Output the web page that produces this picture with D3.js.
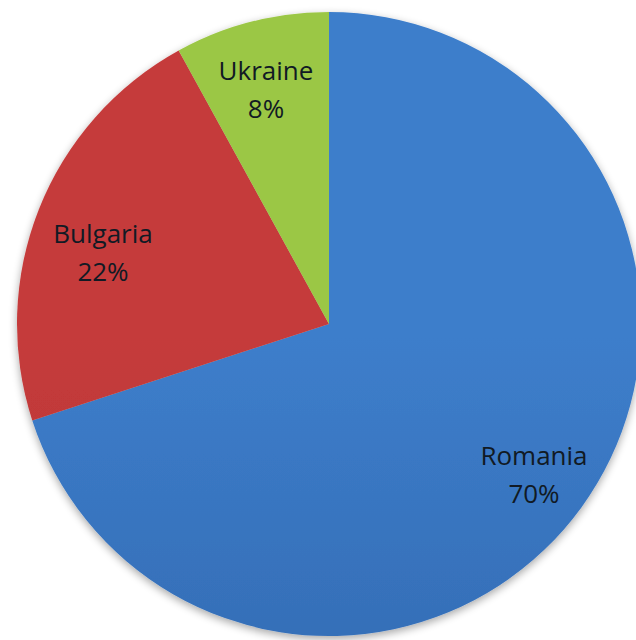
<!DOCTYPE html>
<html><head><meta charset="utf-8">
<script src="https://cdn.jsdelivr.net/npm/d3@7"></script>
<style>html,body{margin:0;padding:0;background:#fff;overflow:hidden}</style>
</head><body>
<script>
const categories = ["Romania", "Bulgaria", "Ukraine"];
const values = [70, 22, 8];
const labels = ["70%", "22%", "8%"];
const colorsTop = ["#3d7ecb", "#c53b3b", "#9bc745"];
const colorsBottom = ["#2d5fa4", "#a92f2f", "#88b337"];

const W = 636, H = 640, cx = 329, cy = 324, R = 312;
const svg = d3.select("body").append("svg").attr("width", W).attr("height", H);
const defs = svg.append("defs");
const f = defs.append("filter").attr("id","sh").attr("x","-10%").attr("y","-10%").attr("width","120%").attr("height","120%");
f.append("feGaussianBlur").attr("in","SourceAlpha").attr("stdDeviation",4).attr("result","b");
f.append("feOffset").attr("in","b").attr("dx",0).attr("dy",3).attr("result","o");
f.append("feComponentTransfer").attr("in","o").attr("result","o2").append("feFuncA").attr("type","linear").attr("slope",0.35);
const m = f.append("feMerge"); m.append("feMergeNode").attr("in","o2"); m.append("feMergeNode").attr("in","SourceGraphic");

categories.forEach((c,i)=>{
  const g = defs.append("linearGradient").attr("id","g"+i).attr("gradientUnits","userSpaceOnUse")
    .attr("x1",0).attr("y1",cy-R).attr("x2",0).attr("y2",cy+R);
  g.append("stop").attr("offset","0%").attr("stop-color",colorsTop[i]);
  g.append("stop").attr("offset","100%").attr("stop-color",colorsBottom[i]);
});

const data = categories.map((c,i)=>({name:c, value:values[i], label:labels[i], i}));
const pie = d3.pie().value(d=>d.value).sort(null);
const arcs = pie(data);
const arc = d3.arc().innerRadius(0).outerRadius(R);
const g = svg.append("g").attr("transform",`translate(${cx},${cy})`);
g.append("g").attr("filter","url(#sh)").selectAll("path").data(arcs).join("path")
  .attr("d",arc).attr("fill",d=>`url(#g${d.data.i})`);

// label anchor points (baseline of first line)
const labelPos = [[534,465],[103,243],[266,80]];
const tg = svg.append("g").attr("font-family","'Open Sans', Lato, sans-serif").attr("font-size",26).attr("fill","#111a24").attr("text-anchor","middle");
arcs.forEach((d,k)=>{
  const [x,y] = labelPos[k];
  tg.append("text").attr("x",x).attr("y",y).text(d.data.name);
  tg.append("text").attr("x",x).attr("y",y+38).text(d.data.label);
});
</script>
</body></html>
